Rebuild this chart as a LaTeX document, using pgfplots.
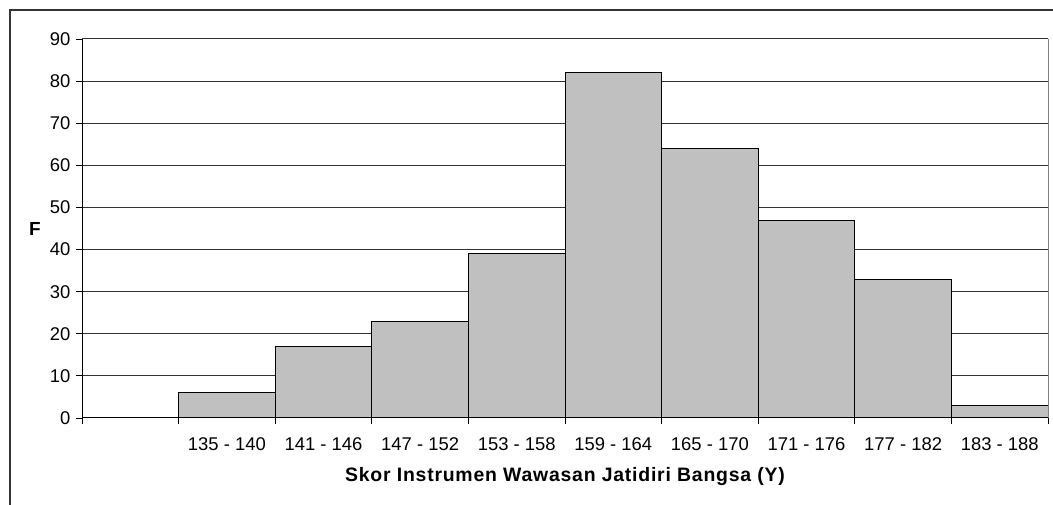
\documentclass[border=0pt]{standalone}
\usepackage{pgfplots}
\pgfplotsset{compat=1.18}
\usepackage{fontspec}
\setmainfont{Liberation Sans}
\definecolor{barfill}{HTML}{C0C0C0}
\begin{document}
\begin{tikzpicture}[x=1bp,y=1bp]
\useasboundingbox (0,0) rectangle (1053,505);
\draw[line width=1.5bp, black!80] (10,0) -- (10,495) -- (1053,495);
\begin{axis}[
  at={(82bp,87bp)}, anchor=south west,
  scale only axis, width=966bp, height=379bp,
  xmin=0, xmax=10, ymin=0, ymax=90,
  ytick={0,10,...,90},
  axis x line*=bottom, axis y line*=left,
  axis line style={black, line width=1bp},
  ymajorgrids, grid style={black!80, line width=1bp},
  tick align=outside,
  major tick length=6bp, minor tick length=6bp,
  tick style={black, line width=0.8bp},
  xtick={1.5,2.5,...,9.5},
  xticklabels={135 - 140,141 - 146,147 - 152,153 - 158,159 - 164,165 - 170,171 - 176,177 - 182,183 - 188},
  major x tick style={draw=none},
  minor xtick={0,1,...,10},
  minor x tick style={black, line width=0.8bp},
  ticklabel style={font=\fontsize{18.5}{20}\selectfont},
  xticklabel style={yshift=-10bp},
  yticklabel style={xshift=-2bp},
  /pgf/number format/assume math mode=true,
  ybar, bar width=1,
  clip=false,
]
\addplot[fill=barfill, draw=black, line width=1bp] coordinates {
  (1.5,6) (2.5,17) (3.5,23) (4.5,39) (5.5,82) (6.5,64) (7.5,47) (8.5,33) (9.5,3)
};
\draw[black!50, line width=1bp] (rel axis cs:1,0) -- (rel axis cs:1,1);
\end{axis}
\node[font=\bfseries\fontsize{19}{20}\selectfont] at (35,276.5) {F};
\node[font=\bfseries\fontsize{19.5}{21}\selectfont\addfontfeatures{LetterSpace=4}] at (565,28) {Skor Instrumen Wawasan Jatidiri Bangsa (Y)};
\end{tikzpicture}
\end{document}
